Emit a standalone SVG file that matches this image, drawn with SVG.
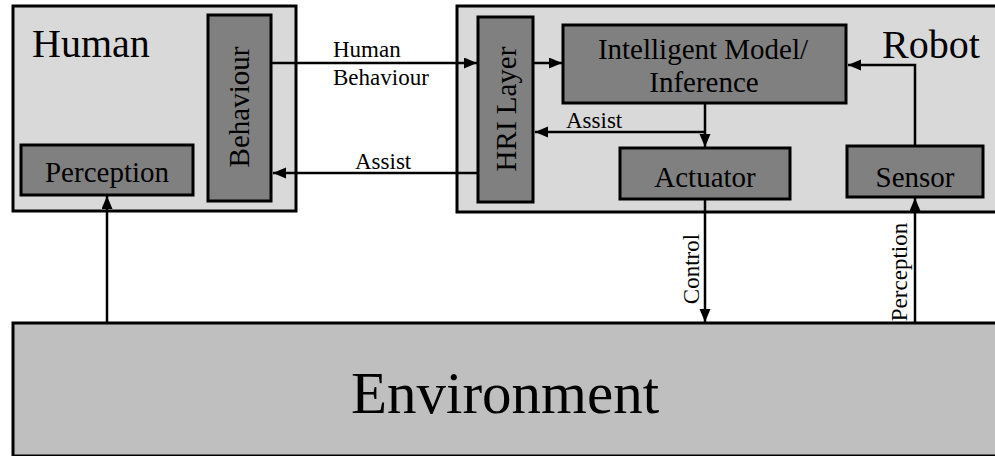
<svg xmlns="http://www.w3.org/2000/svg" width="995" height="456" viewBox="0 0 995 456">
  <defs>
    <marker id="arrow" markerUnits="userSpaceOnUse" markerWidth="14" markerHeight="12" refX="13" refY="5.5" orient="auto">
      <path d="M0,0 L13,5.5 L0,11 Z" fill="#000"/>
    </marker>
    <style>
      text { font-family: 'Liberation Serif', 'DejaVu Serif', serif; fill: #000; }
      .frame { fill: #d9d9d9; stroke: #000; stroke-width: 3; }
      .env { fill: #bfbfbf; stroke: #000; stroke-width: 3; }
      .node { fill: #808080; stroke: #000; stroke-width: 3; }
      .big { font-size: 40px; }
      .lbl { font-size: 29px; text-anchor: middle; }
      .edge { font-size: 23px; }
      .conn path { fill: none; stroke: #000; stroke-width: 2.5; marker-end: url(#arrow); }
    </style>
  </defs>
  <rect width="995" height="456" fill="#fff"/>

  <g font-family="'Liberation Serif', 'DejaVu Serif', serif">
  <!-- Human agent -->
  <g id="human">
    <rect class="frame" x="13" y="6" width="283" height="205"/>
    <text class="big" x="32" y="57">Human</text>
  </g>
  <g id="behaviour">
    <rect class="node" x="208" y="15" width="63" height="186"/>
    <text class="lbl" transform="translate(249,107) rotate(-90)">Behaviour</text>
  </g>
  <g id="perception">
    <rect class="node" x="21" y="145" width="172" height="50"/>
    <text class="lbl" x="107" y="182">Perception</text>
  </g>

  <!-- Robot agent -->
  <g id="robot">
    <rect class="frame" x="457" y="6" width="560" height="206"/>
    <text class="big" x="882" y="58">Robot</text>
  </g>
  <g id="hri-layer">
    <rect class="node" x="478" y="17" width="55" height="185"/>
    <text class="lbl" transform="translate(516,109) rotate(-90)">HRI Layer</text>
  </g>
  <g id="intelligent-model">
    <rect class="node" x="563" y="25" width="283" height="78"/>
    <text class="lbl" x="703" y="59">Intelligent Model/</text>
    <text class="lbl" x="704" y="92">Inference</text>
  </g>
  <g id="actuator">
    <rect class="node" x="620" y="148" width="170" height="51"/>
    <text class="lbl" x="705" y="187">Actuator</text>
  </g>
  <g id="sensor">
    <rect class="node" x="847" y="146" width="136" height="51"/>
    <text class="lbl" x="915" y="187">Sensor</text>
  </g>

  <!-- Environment -->
  <g id="environment">
    <rect class="env" x="13" y="323" width="1000" height="133"/>
    <text x="505" y="413" font-size="59" text-anchor="middle">Environment</text>
  </g>

  <!-- Connectors -->
  <g id="connectors" class="conn">
    <path d="M271,63 H477"/>
    <path d="M478,173 H273"/>
    <path d="M533,63 H562"/>
    <path d="M705,132 H535"/>
    <path d="M705,103 V147"/>
    <path d="M705,199 V322"/>
    <path d="M915,322 V198"/>
    <path d="M915,146 V65 H848"/>
    <path d="M107,322 V196"/>
  </g>

  <!-- Connector labels -->
  <g id="connector-labels" class="edge">
    <text x="333" y="57">Human</text>
    <text x="333" y="85">Behaviour</text>
    <text x="355" y="169">Assist</text>
    <text x="566" y="128">Assist</text>
    <text text-anchor="middle" transform="translate(699,269) rotate(-90)">Control</text>
    <text text-anchor="middle" transform="translate(907,272) rotate(-90)">Perception</text>
  </g>
  </g>
</svg>
